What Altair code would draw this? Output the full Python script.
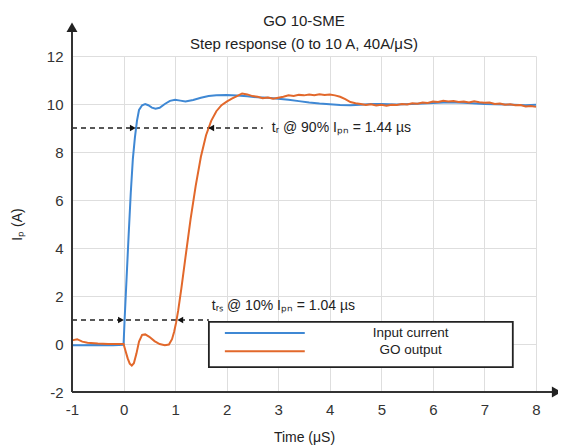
import altair as alt
import pandas as pd

FONT = "Liberation Sans"

# ---- data ----
blue_t = [-1.0, -0.8, -0.5, -0.2, 0.0, 0.02, 0.06, 0.10, 0.14, 0.18, 0.22, 0.26, 0.30, 0.36,
          0.42, 0.48, 0.55, 0.62, 0.70, 0.80, 0.90, 1.00, 1.10, 1.20, 1.35, 1.50, 1.65, 1.80,
          2.00, 2.20, 2.40, 2.60, 2.80, 3.00, 3.20, 3.40, 3.60, 3.80, 4.00, 4.20, 4.40, 4.60,
          4.80, 5.00, 5.30, 5.60, 6.00, 6.30, 6.60, 7.00, 7.40, 7.80, 8.00]
blue_i = [-0.05, -0.05, -0.04, -0.05, -0.03, 1.0, 2.8, 4.6, 6.3, 7.7, 8.6, 9.3, 9.75, 9.95,
          10.0, 9.95, 9.85, 9.8, 9.84, 10.0, 10.13, 10.18, 10.14, 10.1, 10.17, 10.26, 10.33, 10.36,
          10.37, 10.35, 10.32, 10.28, 10.26, 10.22, 10.18, 10.12, 10.06, 10.02, 9.99, 9.96, 9.95, 9.97,
          10.0, 10.0, 9.98, 10.0, 10.04, 10.07, 10.05, 10.0, 9.98, 9.95, 9.97]

orange_t = [-1.0, -0.9, -0.8, -0.7, -0.5, -0.3, -0.1, 0.0, 0.04, 0.08, 0.12, 0.16, 0.20, 0.25,
            0.30, 0.36, 0.42, 0.50, 0.60, 0.70, 0.80, 0.88, 0.94, 0.98, 1.02, 1.06, 1.12, 1.20,
            1.30, 1.40, 1.50, 1.60, 1.70, 1.80, 1.90, 2.00, 2.10, 2.20, 2.30, 2.40, 2.50, 2.60,
            2.70, 2.80, 2.90, 3.00, 3.10, 3.20, 3.30, 3.40, 3.50, 3.60, 3.70, 3.80, 3.90, 4.00,
            4.10, 4.20, 4.30, 4.40, 4.50, 4.60, 4.70, 4.80, 4.90, 5.00, 5.10, 5.20, 5.30, 5.40,
            5.50, 5.60, 5.70, 5.80, 5.90, 6.00, 6.10, 6.20, 6.30, 6.40, 6.50, 6.60, 6.70, 6.80,
            6.90, 7.00, 7.10, 7.20, 7.30, 7.40, 7.50, 7.60, 7.70, 7.80, 7.90, 8.00]
orange_i = [0.15, 0.2, 0.1, 0.05, 0.02, 0.0, 0.0, 0.0, -0.3, -0.6, -0.82, -0.9, -0.8, -0.4,
            0.1, 0.38, 0.4, 0.3, 0.12, 0.0, -0.05, -0.02, 0.2, 0.5, 0.9, 1.4, 2.3, 3.6,
            5.2, 6.6, 7.8, 8.7, 9.3, 9.7, 9.95, 10.1, 10.22, 10.33, 10.44, 10.4, 10.33, 10.3,
            10.24, 10.27, 10.22, 10.26, 10.3, 10.36, 10.33, 10.38, 10.36, 10.4, 10.37, 10.41, 10.38, 10.4,
            10.36, 10.3, 10.2, 10.08, 10.03, 10.0, 9.96, 9.99, 9.94, 9.97, 9.93, 9.97, 9.96, 10.0,
            9.98, 10.03, 10.01, 10.06, 10.04, 10.1, 10.08, 10.13, 10.1, 10.12, 10.08, 10.1, 10.06, 10.11,
            10.07, 10.05, 10.06, 10.0, 10.02, 9.97, 9.99, 9.95, 9.96, 9.9, 9.92, 9.88]

series_names = ["Input current", "GO output"]
series_colors = ["#3f88d4", "#e2682b"]

x_ticks = [-1, 0, 1, 2, 3, 4, 5, 6, 7, 8]
y_ticks = [-2, 0, 2, 4, 6, 8, 10, 12]

title_lines = ["GO 10-SME", "Step response (0 to 10 A, 40A/\u03bcS)"]
x_title = "Time (\u03bcS)"
y_title = "I\u209a (A)"

# annotation marker lines (10% / 90% levels)
level_t0 = [-1.0, -1.0]
level_t1 = [2.70, 1.655]
level_i = [9.0, 1.0]
ann_labels = ["t\u1d63 @ 90% I\u209a\u2099 = 1.44 \u00b5s", "t\u1d63\u209b @ 10% I\u209a\u2099 = 1.04 \u00b5s"]
ann_t = [2.876, 1.713]
ann_i = [9.0, 1.6]
arrow_t = [0.18, 1.70, -0.05, 1.10]
arrow_i = [9.0, 9.0, 1.0, 1.0]
arrow_shape = ["triangle-right", "triangle-left", "triangle-right", "triangle-left"]

# ---- frames ----
curves = pd.concat([
    pd.DataFrame({"t": blue_t, "i": blue_i, "s": series_names[0]}),
    pd.DataFrame({"t": orange_t, "i": orange_i, "s": series_names[1]}),
])
levels = pd.DataFrame({"t": level_t0, "t2": level_t1, "i": level_i})
anns = pd.DataFrame({"t": ann_t, "i": ann_i, "label": ann_labels})
arrows = pd.DataFrame({"t": arrow_t, "i": arrow_i, "shape": arrow_shape})

x_scale = alt.Scale(domain=[-1, 8], nice=False, zero=False)
y_scale = alt.Scale(domain=[-2, 12], nice=False, zero=False)

HYPHEN = "replace(datum.label, '\u2212', '-')"

x_axis = alt.Axis(values=x_ticks, title=x_title, grid=True, gridColor="#dedede", gridWidth=1,
                  domain=False, ticks=False, labelFontSize=15, labelColor="#333333", labelFont=FONT,
                  labelPadding=10, titleFont=FONT, titleFontSize=14, titleFontWeight="normal",
                  titleColor="#222222", titlePadding=13, labelFlush=False, labelExpr=HYPHEN)
y_axis = alt.Axis(values=y_ticks, title=y_title, grid=True, gridColor="#dedede", gridWidth=1,
                  domain=False, ticks=False, labelFontSize=15, labelColor="#333333", labelFont=FONT,
                  labelPadding=9, titleFont=FONT, titleFontSize=14, titleFontWeight="normal",
                  titleColor="#222222", titlePadding=22, labelFlush=False, labelExpr=HYPHEN)

X = alt.X("t:Q", scale=x_scale, axis=x_axis)
Y = alt.Y("i:Q", scale=y_scale, axis=y_axis)

level_layer = alt.Chart(levels).mark_rule(color="#222222", strokeWidth=1.5, strokeDash=[5, 4]).encode(
    x=X, x2="t2:Q", y=Y)

curve_layer = alt.Chart(curves).mark_line(strokeWidth=2).encode(
    x=X, y=Y,
    color=alt.Color("s:N", scale=alt.Scale(domain=series_names, range=series_colors), legend=None),
    detail="s:N", order=alt.Order("t:Q"))

arrow_layer = alt.Chart(arrows).mark_point(filled=True, size=45, color="#111111", opacity=1).encode(
    x=X, y=Y, shape=alt.Shape("shape:N", scale=None))

ann_layer = alt.Chart(anns).mark_text(align="left", baseline="middle", fontSize=14, font=FONT,
                                      color="#222222").encode(x=X, y=Y, text="label:N")

# axis lines with arrow heads
axis_lines = pd.DataFrame({"t": [-1.0, -1.0], "t2": [-1.0, 8.45], "i": [-2.0, -2.0], "i2": [13.3, -2.0]})
axis_heads = pd.DataFrame({"t": [-1.0, 8.40], "i": [13.2, -2.0], "shape": ["triangle-up", "triangle-right"]})
axis_line_layer = alt.Chart(axis_lines).mark_rule(color="#333333", strokeWidth=2).encode(
    x=X, x2="t2:Q", y=Y, y2="i2:Q")
axis_head_layer = alt.Chart(axis_heads).mark_point(filled=True, size=120, color="#222222", opacity=1).encode(
    x=X, y=Y, shape=alt.Shape("shape:N", scale=None))

# legend box drawn inside the plot
legend_box = pd.DataFrame({"t": [1.655], "t2": [7.55], "i": [0.92], "i2": [-0.96]})
legend_lines = pd.DataFrame({"t": [1.965, 1.965], "t2": [3.515, 3.515], "i": [0.46, -0.30],
                             "s": series_names})
legend_text = pd.DataFrame({"t": [5.57, 5.57], "i": [0.46, -0.26], "label": series_names})

box_layer = alt.Chart(legend_box).mark_rect(fill="white", stroke="#222222", strokeWidth=1.8).encode(
    x=X, x2="t2:Q", y=Y, y2="i2:Q")
leg_line_layer = alt.Chart(legend_lines).mark_rule(strokeWidth=2).encode(
    x=X, x2="t2:Q", y=Y,
    color=alt.Color("s:N", scale=alt.Scale(domain=series_names, range=series_colors), legend=None))
leg_text_layer = alt.Chart(legend_text).mark_text(align="center", baseline="middle", fontSize=13.5,
                                                  font=FONT, color="#222222").encode(
    x=X, y=Y, text="label:N")

chart = alt.layer(
    level_layer, curve_layer, arrow_layer, ann_layer,
    axis_line_layer, axis_head_layer,
    box_layer, leg_line_layer, leg_text_layer,
).properties(
    width=464, height=336,
    autosize=alt.AutoSizeParams(type="none"),
    padding={"left": 64, "top": 48, "right": 22, "bottom": 56},
    title=alt.TitleParams(text=title_lines, fontSize=15, fontWeight="normal", font=FONT,
                          color="#222222", anchor="middle", lineHeight=23, offset=10, dy=40),
).configure_view(stroke=None)

chart.save("out.html", embed_options={"renderer": "svg", "actions": False})
